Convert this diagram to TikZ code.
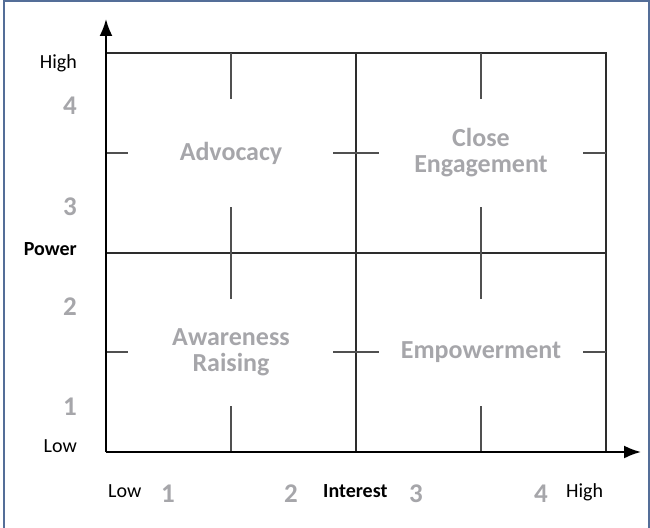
\documentclass[tikz,border=0pt]{standalone}
\usepackage{fontspec}
\setmainfont{Carlito}
\usetikzlibrary{arrows, arrows.meta}
\usetikzlibrary{calc}

\definecolor{framecol}{RGB}{84,110,152}
\definecolor{numgray}{RGB}{166,166,170}
\definecolor{gridcol}{RGB}{45,45,45}
\definecolor{tickcol}{RGB}{80,80,80}

\tikzset{
  gridline/.style={gridcol, line width=1.5pt},
  axisline/.style={black, line width=2pt, -{Latex[length=17pt, width=13pt]}},
  ticklines/.style={tickcol, line width=1.3pt},
  axislabel/.style={font=\fontsize{20}{24}\selectfont, inner sep=0pt},
  axisnum/.style={font=\fontsize{27}{27}\selectfont\bfseries, text=numgray, inner sep=0pt},
  quadlabel/.style={font=\fontsize{26}{26}\selectfont\bfseries, text=numgray, align=center, inner sep=0pt}
}

\begin{document}
\begin{tikzpicture}[x=1pt, y=-1pt]
      \useasboundingbox (0,0) rectangle (650,527);
      \draw[framecol, line width=1.6pt] (4,1) rectangle (649,530);

      % grid corners and axis tips
      \coordinate (o) at (106,452);
      \coordinate (tl) at (106,53);
      \coordinate (tr) at (606,53);
      \coordinate (br) at (606,452);
      \coordinate (ml) at (106,253);
      \coordinate (mr) at (606,253);
      \coordinate (mt) at (356,53);
      \coordinate (mb) at (356,452);
      \coordinate (ytip) at (106,19);
      \coordinate (xtip) at (641,452);

      \draw[gridline] (tl) -- (tr) -- (br);
      \draw[gridline] (ml) -- (mr);
      \draw[gridline] (mt) -- (mb);

      % ticks
      \foreach \x in {231, 481} {
        \draw[ticklines] (\x,53) -- (\x,99);
        \draw[ticklines] (\x,207) -- (\x,299);
        \draw[ticklines] (\x,406) -- (\x,452);
      }
      \foreach \y in {153, 352} {
        \draw[ticklines] (106,\y) -- (128,\y);
        \draw[ticklines] (333,\y) -- (379,\y);
        \draw[ticklines] (583,\y) -- (606,\y);
      }

      \draw[axisline] (o) -- (ytip);
      \draw[axisline] (o) -- (xtip);

      % quadrants
      \node[quadlabel] (advocacy) at (231,153) {Advocacy};
      \node[quadlabel] (close) at (481,153) {Close\\Engagement};
      \node[quadlabel] (awareness) at (231,352) {Awareness\\Raising};
      \node[quadlabel] (empower) at (481,352) {Empowerment};

      % power axis
      \node[axislabel, anchor=base east] (yhigh) at (77,68) {High};
      \node[axisnum, anchor=base east] (y4) at (77,114) {4};
      \node[axisnum, anchor=base east] (y3) at (77,215) {3};
      \node[axislabel, anchor=base east, font=\fontsize{20}{24}\selectfont\bfseries] (power) at (77,255) {Power};
      \node[axisnum, anchor=base east] (y2) at (77,315) {2};
      \node[axisnum, anchor=base east] (y1) at (77,415) {1};
      \node[axislabel, anchor=base east] (ylow) at (77,452) {Low};

      % interest axis
      \node[axislabel, anchor=base west] (xlow) at (108,497) {Low};
      \node[axisnum, anchor=base west] (x1) at (161,502) {1};
      \node[axisnum, anchor=base west] (x2) at (284,502) {2};
      \node[axislabel, anchor=base west, font=\fontsize{20}{24}\selectfont\bfseries] (interest) at (323,497) {Interest};
      \node[axisnum, anchor=base west] (x3) at (409,502) {3};
      \node[axisnum, anchor=base west] (x4) at (534,502) {4};
      \node[axislabel, anchor=base west] (xhigh) at (566,497) {High};
\end{tikzpicture}
\end{document}
